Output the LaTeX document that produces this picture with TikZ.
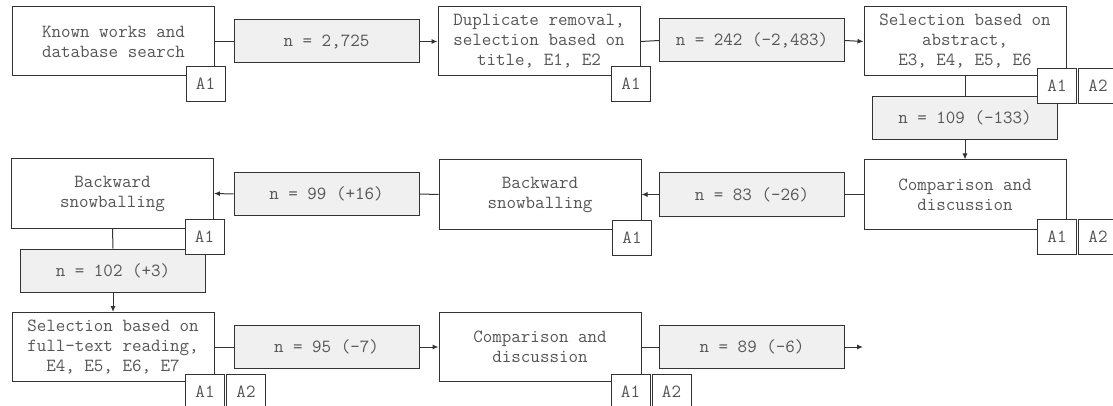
\documentclass[tikz,border=0pt]{standalone}
\usetikzlibrary{calc,arrows.meta}
\definecolor{linec}{HTML}{333333}
\definecolor{textc}{HTML}{555555}
\definecolor{countfill}{HTML}{F0F0F0}
\tikzset{
  base/.style={draw=linec, line width=1pt, text=textc, inner sep=0pt, align=center,
    font=\ttfamily\fontsize{18.5}{20}\selectfont},
  box/.style={base, fill=white, minimum width=202pt, minimum height=69pt},
  count/.style={base, fill=countfill, minimum width=185pt, minimum height=43pt},
  tag/.style={base, fill=white, minimum width=39pt, minimum height=35pt},
  conn/.style={draw=linec, line width=1pt},
  arr/.style={conn, -{Latex[length=6pt,width=5pt]}}
}
\begin{document}
\begin{tikzpicture}[x=1pt,y=-1pt]
\useasboundingbox (0,0) rectangle (1113,406);
\clip (0,0) rectangle (1113,406);
% process boxes
\node[box] (b1) at (113.5,41.5) {Known works and\\database search};
\node[box] (b2) at (539,41.5) {Duplicate removal,\\selection based on\\title, E1, E2};
\node[box] (b3) at (965,41.5) {Selection based on\\abstract,\\E3, E4, E5, E6};
\node[box] (b4) at (965,194.5) {Comparison and\\discussion};
\node[box] (b5) at (540,194.5) {Backward\\snowballing};
\node[box] (b6) at (112.5,193.5) {Backward\\snowballing};
\node[box] (b7) at (113,347) {Selection based on\\full-text reading,\\E4, E5, E6, E7};
\node[box] (b8) at (540,347) {Comparison and\\discussion};
% count boxes
\node[count] (c1) at (326.5,41.5) {n = 2,725};
\node[count] (c2) at (752,40.5) {n = 242 (-2,483)};
\node[count] (c3) at (965,118) {n = 109 (-133)};
\node[count] (c4) at (752,194.5) {n = 83 (-26)};
\node[count] (c5) at (326.5,194) {n = 99 (+16)};
\node[count] (c6) at (113,270.5) {n = 102 (+3)};
\node[count] (c7) at (326.5,347) {n = 95 (-7)};
\node[count] (c8) at (752,347) {n = 89 (-6)};
\coordinate (end) at (863,347);
% connectors
\draw[conn] (b1.east) -- (c1.west);
\draw[arr] (c1.east) -- (b2.west);
\draw[conn] (b2.east) -- (c2.west);
\draw[arr] (c2.east) -- (b3.west);
\draw[conn] (b3.south) -- (c3.north);
\draw[arr] (c3.south) -- (b4.north);
\draw[conn] (b4.west) -- (c4.east);
\draw[arr] (c4.west) -- (b5.east);
\draw[conn] (b5.west) -- (c5.east);
\draw[arr] (c5.west) -- (b6.east);
\draw[conn] (b6.south) -- (c6.north);
\draw[arr] (c6.south) -- (b7.north);
\draw[conn] (b7.east) -- (c7.west);
\draw[arr] (c7.east) -- (b8.west);
\draw[conn] (b8.east) -- (c8.west);
\draw[arr] (c8.east) -- (end);
% tags
\node[tag] (t1) at ($(b1.south east)+(-9.5,7.5)$) {A1};
\node[tag] (t2) at ($(b2.south east)+(-9.5,7.5)$) {A1};
\node[tag] (t3a) at ($(b3.south east)+(-9.5,9.5)$) {A1};
\node[tag] (t3b) at ($(t3a)+(41,0)$) {A2};
\node[tag] (t4a) at ($(b4.south east)+(-9.5,7.5)$) {A1};
\node[tag] (t4b) at ($(t4a)+(41,0)$) {A2};
\node[tag] (t5) at ($(b5.south east)+(-9.5,8)$) {A1};
\node[tag] (t6) at ($(b6.south east)+(-9.5,8)$) {A1};
\node[tag] (t7a) at ($(b7.south east)+(-9.5,10)$) {A1};
\node[tag] (t7b) at ($(t7a)+(41,0)$) {A2};
\node[tag] (t8a) at ($(b8.south east)+(-11,10)$) {A1};
\node[tag] (t8b) at ($(t8a)+(41,0)$) {A2};
\end{tikzpicture}
\end{document}
